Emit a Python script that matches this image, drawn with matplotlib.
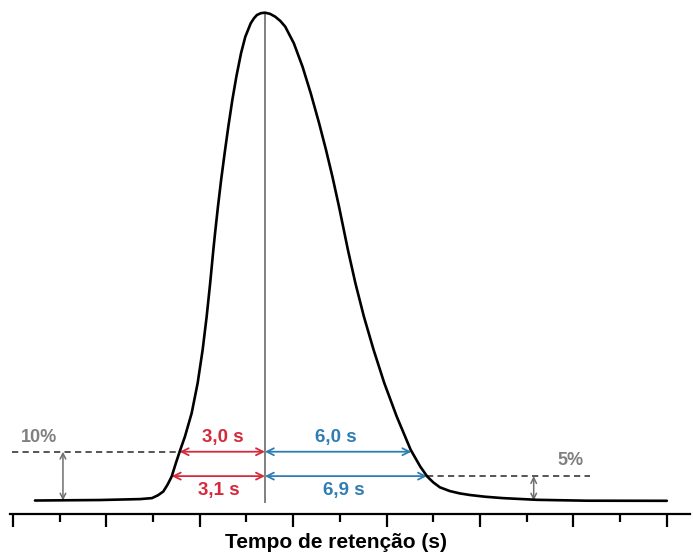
import matplotlib
matplotlib.use("Agg")
import matplotlib.pyplot as plt

plt.rcParams['font.family'] = ['Liberation Sans', 'DejaVu Sans']

# Chromatogram peak (time in axis units, signal in % of peak height)
peak_t = [0.471, 1.863, 2.719, 2.976, 3.104, 3.218, 3.308, 3.398, 3.490, 3.575,
          3.682, 3.826, 3.954, 4.061, 4.147, 4.222, 4.290, 4.327, 4.389, 4.457,
          4.532, 4.611, 4.697, 4.783, 4.883, 4.975, 5.091, 5.160, 5.224, 5.309, 5.395,
          5.502, 5.615, 5.727, 5.830, 6.014, 6.200, 6.376, 6.555, 6.703, 6.840, 6.981, 7.097,
          7.172, 7.332, 7.514, 7.722, 7.951, 8.217, 8.516, 8.720, 8.870, 8.998,
          9.142, 9.356, 9.570, 9.784, 10.105, 10.490, 11.218, 12.289, 14.001]
peak_y = [0.00, 0.10, 0.29, 0.49, 1.07, 1.84, 3.22, 4.92, 7.73, 10.18,
          13.11, 17.91, 24.06, 30.88, 37.70, 44.55, 51.37, 54.80, 60.25, 65.72,
          71.19, 76.64, 82.11, 86.89, 91.68, 95.08, 97.83, 98.85, 99.53, 99.90, 100.00,
          99.77, 99.18, 98.28, 97.13, 93.73, 88.93, 83.48, 77.34, 71.86, 66.39, 60.25, 54.86,
          51.37, 44.55, 37.70, 30.88, 24.06, 17.21, 10.39, 6.97, 4.92, 3.73,
          2.70, 1.93, 1.45, 1.13, 0.78, 0.49, 0.14, -0.04, -0.06]

apex_t = 5.395
levels = [10, 5]                     # % of peak height
level_labels = ["10%", "5%"]
left_t = [3.57, 3.40]                # front crossing at 10%, 5%
right_t = [8.53, 8.865]              # tail crossing at 10%, 5%
left_labels = ["3,0 s", "3,1 s"]
right_labels = ["6,0 s", "6,9 s"]
xlabel = "Tempo de retenção (s)"
major_ticks = [0, 2, 4, 6, 8, 10, 12, 14]
minor_ticks = [1, 3, 5, 7, 9, 11, 13]

RED = "#d42a3c"
BLUE = "#2f7db3"
GRAY = "#6e6e6e"

fig = plt.figure(figsize=(6.93, 5.59), dpi=100)
ax = fig.add_axes([0, 0, 1, 1])
ax.set_xlim(-0.278, 14.561)
ax.set_ylim(-11.99, 102.6)

ax.plot(peak_t, peak_y, color="black", lw=1.9, solid_capstyle="round", solid_joinstyle="round", zorder=5)

# apex vertical line
ax.plot([apex_t, apex_t], [-0.3, 100], color="#808080", lw=1.4, zorder=4)

# dashed level lines
ax.plot([-0.02, left_t[0]], [levels[0], levels[0]], color="#555555", lw=1.4, ls=(0, (3.2, 2.2)))
ax.plot([right_t[1], 12.36], [levels[1], levels[1]], color="#555555", lw=1.4, ls=(0, (3.2, 2.2)))

# level height arrows
ax.annotate("", xy=(1.07, 0), xytext=(1.07, levels[0]),
            arrowprops=dict(arrowstyle="<->,head_length=0.4,head_width=0.2", color=GRAY, lw=1.1, shrinkA=0, shrinkB=0))
ax.annotate("", xy=(11.15, 0), xytext=(11.15, levels[1]),
            arrowprops=dict(arrowstyle="<->,head_length=0.4,head_width=0.2", color=GRAY, lw=1.1, shrinkA=0, shrinkB=0))
ax.text(0.56, 13.0, level_labels[0], color="#808080", fontsize=13, fontweight="bold", ha="center", va="center")
ax.text(11.93, 8.1, level_labels[1], color="#808080", fontsize=13, fontweight="bold", ha="center", va="center")

# width arrows
for lev, lt, rt, ll, rl, dy in zip(levels, left_t, right_t, left_labels, right_labels, [3.0, -3.0]):
    ax.annotate("", xy=(lt, lev), xytext=(apex_t, lev),
                arrowprops=dict(arrowstyle="<->,head_length=0.5,head_width=0.25", color=RED, lw=1.3, shrinkA=0, shrinkB=0))
    ax.annotate("", xy=(apex_t, lev), xytext=(rt, lev),
                arrowprops=dict(arrowstyle="<->,head_length=0.5,head_width=0.25", color=BLUE, lw=1.3, shrinkA=0, shrinkB=0))
    ax.text((lt + apex_t) / 2 + 0.02, lev + dy, ll, color=RED, fontsize=13.5, fontweight="bold", ha="center", va="center")
    ax.text((rt + apex_t) / 2 - 0.04, lev + dy, rl, color=BLUE, fontsize=13.5, fontweight="bold", ha="center", va="center")

# x axis
for s in ["top", "right", "left"]:
    ax.spines[s].set_visible(False)
ax.spines["bottom"].set_position(("data", -2.77))
ax.spines["bottom"].set_bounds(-0.064, 14.5)
ax.spines["bottom"].set_linewidth(1.6)
ax.set_xticks(major_ticks)
ax.set_xticks(minor_ticks, minor=True)
ax.tick_params(axis="x", which="major", length=9.5, width=1.6, direction="out", labelbottom=False)
ax.tick_params(axis="x", which="minor", length=5.5, width=1.6, direction="out", labelbottom=False)
ax.set_yticks([])
ax.text(6.92, -8.6, xlabel, fontsize=15, fontweight="bold", ha="center", va="center")

fig.savefig("out.png", dpi=100)
